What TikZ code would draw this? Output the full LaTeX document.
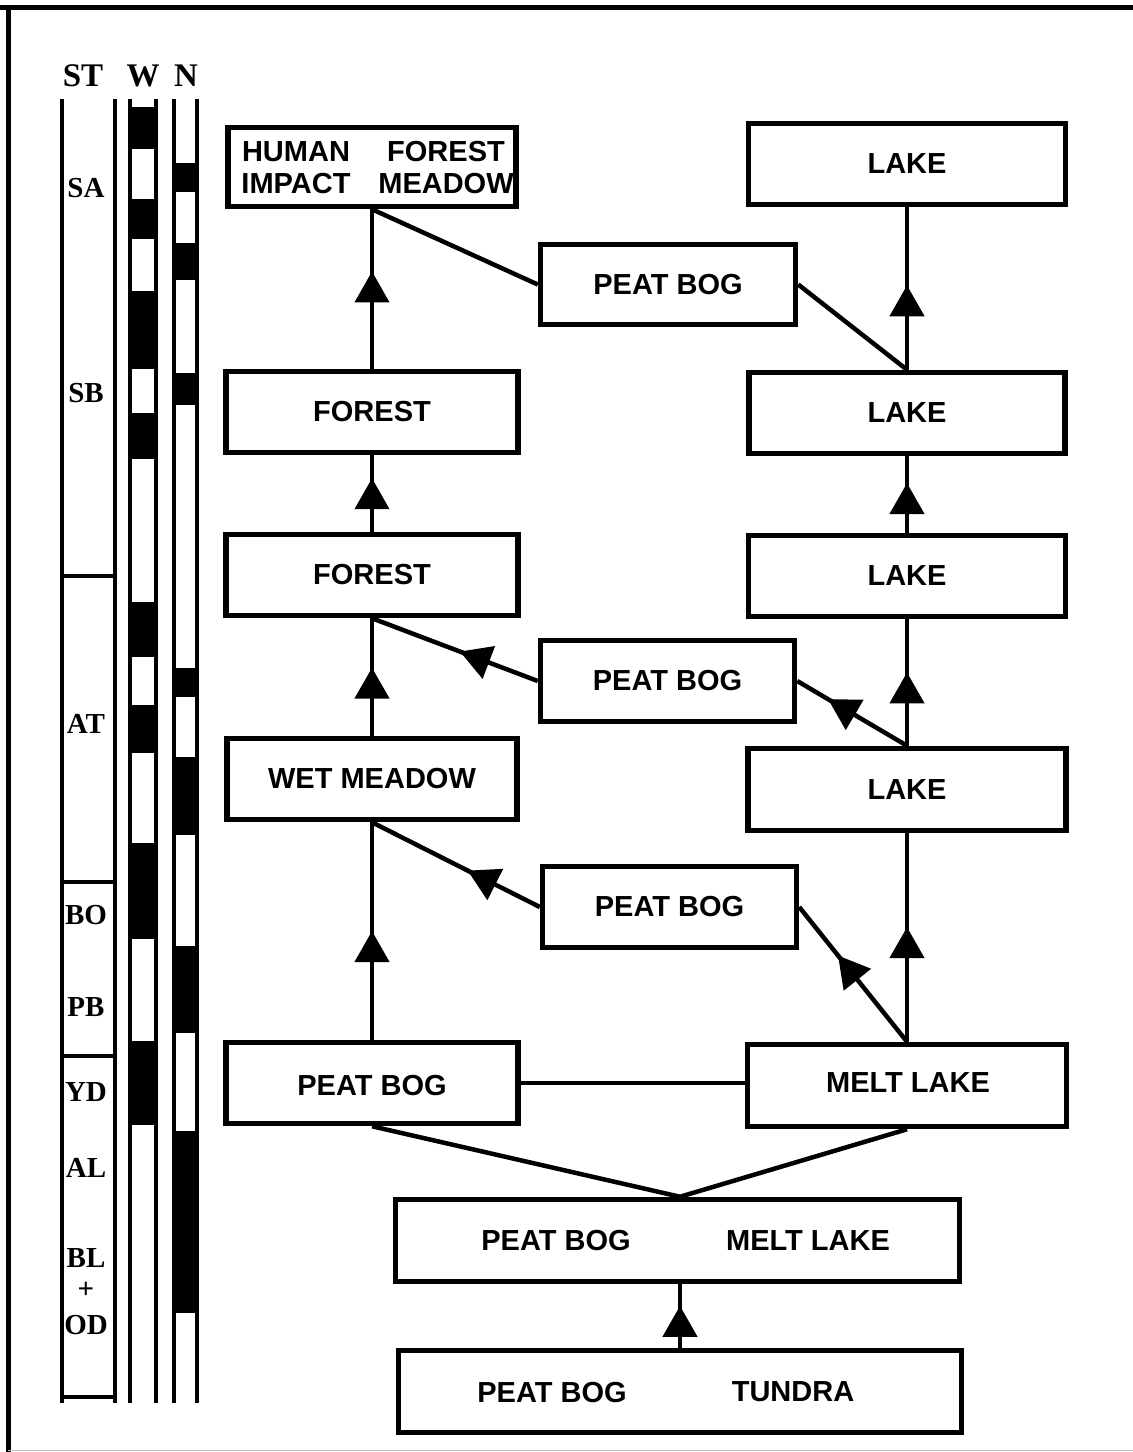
\documentclass[tikz,border=0pt]{standalone}
\usepackage{fontspec}
\setmainfont{Liberation Sans}
\newfontfamily\timesb{Liberation Serif}
\usetikzlibrary{arrows.meta,decorations.markings,calc}
\begin{document}
\begin{tikzpicture}[x=1pt,y=-1pt,
  box/.style={draw, line width=5.5pt, inner sep=0pt, align=center, font=\bfseries\fontsize{29}{32}\selectfont},
  txt/.style={inner sep=0pt, align=center, font=\bfseries\fontsize{29}{32}\selectfont},
  conn/.style={line width=4.5pt},
  arr/.style={postaction={decorate}, decoration={markings, mark=at position #1 with {\arrow{Triangle[length=31pt,width=34pt]}}}},
  arr/.default=0.5,
  stlab/.style={inner sep=0pt, font=\timesb\bfseries\fontsize{29}{30}\selectfont},
  head/.style={inner sep=0pt, anchor=base, font=\timesb\bfseries\fontsize{33}{34}\selectfont},
  col/.style={line width=4.5pt},
]
\useasboundingbox (0,0) rectangle (1133,1452);
% frame
\draw[line width=5pt] (0,7) -- (1133,7);
\draw[line width=5pt] (8,4.5) -- (8,1452);
\draw[gray!50, line width=1.5pt] (8,1450.5) -- (1133,1450.5);

% stratigraphy columns
\foreach \a/\b in {107/149,199/239,291/369,413/459,602/657,705/753,843/939,1041/1125}
  \fill (128,\a) rectangle (158,\b);
\foreach \a/\b in {163/192,243/280,373/405,668/697,757/835,946/1033,1131/1313}
  \fill (172,\a) rectangle (199,\b);
\foreach \x in {62,115,130,156,174,197}
  \draw[col] (\x,99) -- (\x,1403);
\foreach \y in {576,882,1056,1397}
  \draw[col] (62,\y) -- (115,\y);

\node[head] (hST) at (83,86) {ST};
\node[head] (hW) at (143,86) {W};
\node[head] (hN) at (186,86) {N};

\node[stlab] (sa) at (86,188) {SA};
\node[stlab] (sb) at (86,393) {SB};
\node[stlab] (at) at (86,724) {AT};
\node[stlab] (bo) at (86,915) {BO};
\node[stlab] (pb) at (86,1007) {PB};
\node[stlab] (yd) at (86,1092) {YD};
\node[stlab] (al) at (86,1168) {AL};
\node[stlab] (bl) at (86,1258) {BL};
\node[stlab] (pl) at (86,1290) {+};
\node[stlab] (od) at (86,1325) {OD};

% boxes
\node[box, minimum width=288pt, minimum height=79pt] (hi) at (372,167) {};
\node[txt] (hi1) at (296,168) {HUMAN\\IMPACT};
\node[txt] (hi2) at (446,168) {FOREST\\MEADOW};
\node[box, minimum width=317pt, minimum height=81pt] (l1) at (907,164) {LAKE};
\node[box, minimum width=255pt, minimum height=80pt] (pb1) at (668,284.5) {PEAT BOG};
\node[box, minimum width=292pt, minimum height=81pt] (f1) at (372,412) {FOREST};
\node[box, minimum width=316pt, minimum height=81pt] (l2) at (907,413) {LAKE};
\node[box, minimum width=292pt, minimum height=81pt] (f2) at (372,575) {FOREST};
\node[box, minimum width=317pt, minimum height=81pt] (l3) at (907,576) {LAKE};
\node[box, minimum width=254pt, minimum height=81pt] (pb2) at (667.5,681) {PEAT BOG};
\node[box, minimum width=290pt, minimum height=81pt] (wm) at (372,779) {WET MEADOW};
\node[box, minimum width=318pt, minimum height=82pt] (l4) at (907,789.5) {LAKE};
\node[box, minimum width=254pt, minimum height=81pt] (pb3) at (669.5,907) {PEAT BOG};
\node[box, minimum width=292pt, minimum height=81pt] (pb4) at (372,1083) {};
\node[txt] (pb4t) at (372,1086) {PEAT BOG};
\node[box, minimum width=319pt, minimum height=82pt] (ml) at (907,1085.5) {};
\node[txt] (mlt) at (908,1083) {MELT LAKE};
\node[box, minimum width=564pt, minimum height=82pt] (pbml) at (677.5,1240.5) {};
\node[txt] (pbml1) at (556,1241) {PEAT BOG};
\node[txt] (pbml2) at (808,1241) {MELT LAKE};
\node[box, minimum width=563pt, minimum height=82pt] (pbt) at (680,1391.5) {};
\node[txt] (pbt1) at (552,1392) {PEAT BOG};
\node[txt] (pbt2) at (793,1392) {TUNDRA};

% connectors
\draw[conn, arr=0.61] (f1.north) -- (hi.south);
\draw[conn] (hi.south) -- (pb1.west);
\draw[conn] (pb1.east) -- (l2.north);
\draw[conn, arr=0.52] (l2.north) -- (l1.south);
\draw[conn, arr=0.70] (f2.north) -- (f1.south);
\draw[conn, arr=0.65] (l3.north) -- (l2.south);
\draw[conn, arr=0.58] (wm.north) -- (f2.south);
\draw[conn, arr=0.47] (pb2.west) -- (f2.south);
\draw[conn, arr=0.58] (l4.north) -- (l3.south);
\draw[conn, arr=0.72] (l4.north) -- (pb2.east);
\draw[conn, arr=0.5] (pb4.north) -- (wm.south);
\draw[conn, arr=0.43] (pb3.west) -- (wm.south);
\draw[conn, arr=0.55] (ml.north) -- (l4.south);
\draw[conn, arr=0.64] (ml.north) -- (pb3.east);
\draw[line width=3.5pt] (pb4.east) -- (pb4.east -| ml.west);
\coordinate (meet) at (pbt.north |- pbml.north);
\draw[conn] (pb4.south) -- (meet) -- (ml.south);
\draw[conn, arr=0.66] (pbt.north) -- (pbt.north |- pbml.south);
\end{tikzpicture}
\end{document}
